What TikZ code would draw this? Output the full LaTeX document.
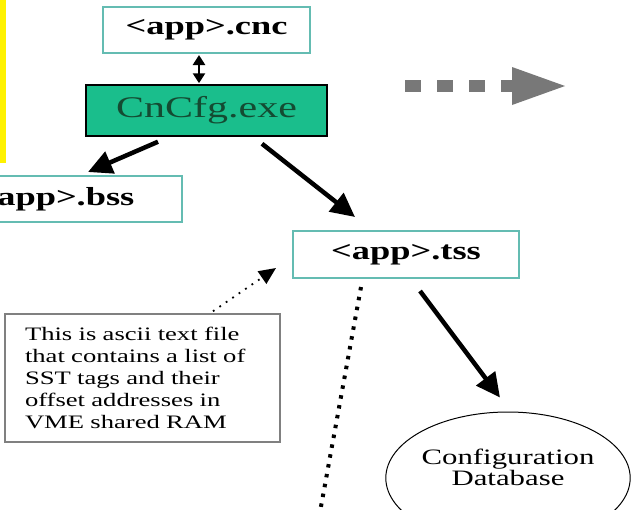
\documentclass[tikz,border=0pt]{standalone}
\usepackage{fontspec}
\setmainfont{Liberation Serif}
\newfontfamily\wf[FakeStretch=1.4]{Liberation Serif}
\usetikzlibrary{arrows.meta,shapes.geometric}
\definecolor{boxedge}{RGB}{100,188,178}
\definecolor{cfgfill}{RGB}{26,190,140}
\definecolor{cfgtext}{RGB}{20,75,50}
\definecolor{arrgray}{RGB}{120,120,120}
\tikzset{
  filebox/.style={draw=boxedge, line width=2pt, fill=white, inner sep=0pt,
    font=\wf\bfseries\fontsize{26}{30}\selectfont},
  exebox/.style={draw=black, line width=1.5pt, fill=cfgfill, inner sep=0pt,
    text=cfgtext, font=\wf\fontsize{30}{34}\selectfont},
  notebox/.style={draw=gray, line width=1.5pt, inner xsep=20pt, inner ysep=0pt,
    align=left, font=\wf\fontsize{19}{22}\selectfont},
  dbnode/.style={ellipse, draw=black, line width=1pt, inner sep=0pt,
    font=\wf\fontsize{22}{24}\selectfont},
  bigarrow/.style={line width=4.5pt, -{Triangle[length=24pt,width=23pt]}},
  dotarrow/.style={line width=1.8pt, dash pattern=on 1.8pt off 6pt,
    -{Triangle[length=17pt,width=15pt]}},
  trichain/.style={line width=4pt, dash pattern=on 3.5pt off 6.5pt},
  smallboth/.style={line width=2.5pt, {Triangle[length=10pt,width=12pt]}-{Triangle[length=10pt,width=12pt]}},
}
\begin{document}
\begin{tikzpicture}[x=1pt,y=-1pt]
\useasboundingbox (0,0) rectangle (632,509);
\clip (0,0) rectangle (632,509);
\fill[white] (0,0) rectangle (632,509);
\fill[yellow] (0,0) rectangle (6,163);

\node[filebox, minimum width=207pt, minimum height=46pt] (cnc) at (206.5,30) {<app>.cnc};
\node[exebox, minimum width=241pt, minimum height=51pt] (cfg) at (206.5,110.5) {CnCfg.exe};
\node[filebox, minimum width=253pt, minimum height=46pt] (bss) at (55.5,199) {<app>.bss};
\node[filebox, minimum width=226pt, minimum height=47pt] (tss) at (406,254.5) {<app>.tss};
\node[notebox, minimum width=275pt, minimum height=128pt, text width=235pt] (note) at (142.5,378)
  {This is ascii text file\\that contains a list of\\SST tags and their\\offset addresses in\\VME shared RAM};
\node[dbnode, minimum width=244pt, minimum height=132pt] (db) at (508,478)
  {\raisebox{3pt}[0pt][0pt]{\begin{tabular}{@{}c@{}}Configuration\\[-3pt]Database\end{tabular}}};

\draw[smallboth] ([xshift=-7.5pt,yshift=-1pt]cnc.south) -- ([xshift=-7.5pt,yshift=1pt]cfg.north);
\draw[bigarrow] ([xshift=-48.5pt,yshift=-5pt]cfg.south) -- ([xshift=32.5pt,yshift=3pt]bss.north);
\draw[bigarrow] ([xshift=55.5pt,yshift=-7pt]cfg.south) -- ([xshift=-51pt,yshift=13pt]tss.north);
\draw[bigarrow] ([xshift=14pt,yshift=-12pt]tss.south) -- ([xshift=-8pt,yshift=14pt]db.north);
\draw[dotarrow] ([xshift=70.5pt,yshift=2pt]note.north) -- ([xshift=-16pt,yshift=11pt]tss.south west);
\coordinate (chainend) at (320,512);
\draw[trichain] ([xshift=-45pt,yshift=-8pt]tss.south) -- (chainend);

% grey dashed block arrow
\coordinate (ga) at (405,86);
\coordinate (gb) at (514,86);
\coordinate (gt) at (565,86);
\draw[arrgray, line width=12pt, dash pattern=on 16pt off 16pt] (ga) -- (gb);
\fill[arrgray] (512,67) -- (gt) -- (512,105) -- cycle;
\end{tikzpicture}
\end{document}
